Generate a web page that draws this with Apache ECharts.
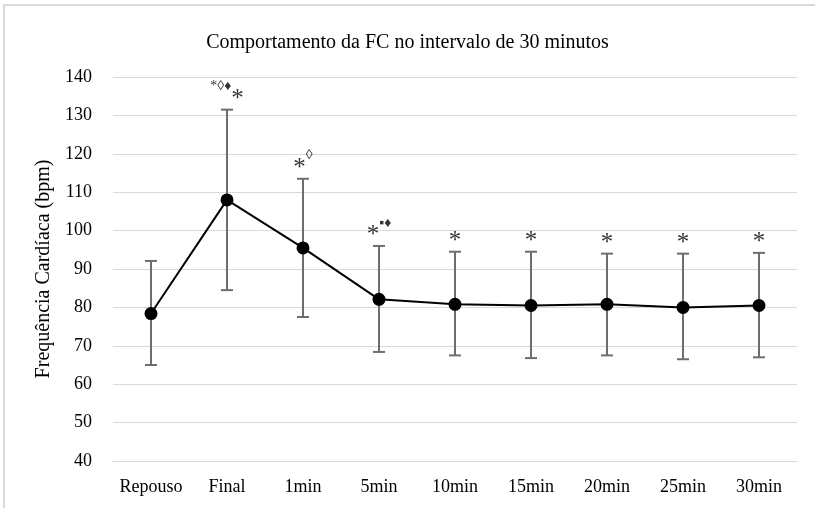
<!DOCTYPE html>
<html><head><meta charset="utf-8">
<script src="https://cdn.jsdelivr.net/npm/echarts@6/dist/echarts.min.js"></script>
<style>
html,body{margin:0;padding:0;background:#fff;}
#c{width:815px;height:508px;position:absolute;left:0;top:0;}
#b{position:absolute;left:3px;top:4px;width:812px;height:504px;border-left:2px solid #d9d9d9;border-top:2px solid #d9d9d9;pointer-events:none;}
</style></head>
<body><div id="c"></div><div id="b"></div>
<script>
const categories = ['Repouso','Final','1min','5min','10min','15min','20min','25min','30min'];
const meanHR = [78.4, 108, 95.5, 82.1, 80.8, 80.5, 80.8, 80, 80.5];
const upperHR = [92.1, 131.5, 113.5, 96, 94.5, 94.5, 94, 94, 94.2];
const lowerHR = [65, 84.5, 77.5, 68.4, 67.5, 66.8, 67.5, 66.5, 67];
const annotations = ['', '{sup|*\u25CA\u2666}{s|*}', '{s|*}{sup|\u25CA}', '{s|*}{sup|\u25AA\u2666}', '{s|*}', '{s|*}', '{s|*}', '{s|*}', '{s|*}'];
const yTicks = {min: 40, max: 140, interval: 10};

const chart = echarts.init(document.getElementById('c'));
const serif = 'Liberation Serif, Times New Roman, serif';
chart.setOption({
  animation: false,
  title: {text: 'Comportamento da FC no intervalo de 30 minutos', left: 'center', top: 28,
    textStyle: {fontFamily: serif, fontSize: 20, fontWeight: 'normal', color: '#000'}},
  grid: {left: 113, right: 18, top: 77, bottom: 47},
  xAxis: {type: 'category', data: categories, boundaryGap: true,
    axisLine: {show: true, lineStyle: {color: '#d9d9d9', width: 1}}, axisTick: {show: false},
    axisLabel: {fontFamily: serif, fontSize: 18, color: '#000', margin: 17, interval: 0}},
  yAxis: {type: 'value', min: yTicks.min, max: yTicks.max, interval: yTicks.interval,
    name: 'Frequência Cardíaca (bpm)', nameLocation: 'middle', nameGap: 58, nameRotate: 90,
    nameTextStyle: {fontFamily: serif, fontSize: 20, color: '#000'},
    axisLine: {show: false}, axisTick: {show: false},
    axisLabel: {fontFamily: serif, fontSize: 18, color: '#000', margin: 21},
    splitLine: {lineStyle: {color: '#d9d9d9', width: 1}}},
  series: [
    {type: 'custom', name: 'err', z: 1,
     data: categories.map((c, i) => [i, lowerHR[i], upperHR[i]]),
     renderItem: function (params, api) {
       const x = api.value(0);
       const lo = api.coord([x, api.value(1)]);
       const hi = api.coord([x, api.value(2)]);
       const hw = 6;
       const st = {stroke: '#6e6e6e', lineWidth: 2};
       return {type: 'group', children: [
         {type: 'line', shape: {x1: lo[0], y1: lo[1], x2: hi[0], y2: hi[1]}, style: st},
         {type: 'line', shape: {x1: lo[0]-hw, y1: lo[1], x2: lo[0]+hw, y2: lo[1]}, style: st},
         {type: 'line', shape: {x1: hi[0]-hw, y1: hi[1], x2: hi[0]+hw, y2: hi[1]}, style: st}
       ]};
     }},
    {type: 'line', data: meanHR, z: 3, symbol: 'circle', symbolSize: 13,
     lineStyle: {color: '#000', width: 2}, itemStyle: {color: '#000'}},
    {type: 'scatter', data: upperHR, symbolSize: 0, z: 4, silent: true,
     label: {show: true, position: 'top', distance: -2,
       formatter: p => annotations[p.dataIndex],
       rich: {
         s: {fontFamily: serif, fontSize: 25, color: '#000', lineHeight: 32, verticalAlign: 'bottom'},
         sup: {fontFamily: serif, fontSize: 14, color: '#000', lineHeight: 14, verticalAlign: 'top'}
       }}}
  ]
});
</script></body></html>
